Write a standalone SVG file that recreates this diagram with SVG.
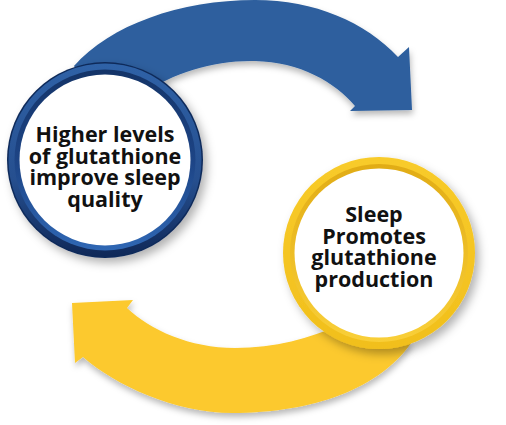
<svg xmlns="http://www.w3.org/2000/svg" width="506" height="425" viewBox="0 0 506 425">
  <defs>
    <filter id="arrowShadow" x="-10%" y="-10%" width="120%" height="130%">
      <feDropShadow dx="1" dy="4" stdDeviation="3" flood-color="#000" flood-opacity="0.28"/>
    </filter>
    <filter id="circleShadow" x="-15%" y="-15%" width="135%" height="135%">
      <feDropShadow dx="4" dy="5" stdDeviation="5" flood-color="#000" flood-opacity="0.3"/>
    </filter>
    <linearGradient id="blueOuter" x1="0" y1="0" x2="0" y2="1">
      <stop offset="0" stop-color="#2f62a7"/>
      <stop offset="0.6" stop-color="#264f8f"/>
      <stop offset="1" stop-color="#0f2858"/>
    </linearGradient>
    <linearGradient id="blueInner" x1="0" y1="0" x2="0" y2="1">
      <stop offset="0" stop-color="#143468"/>
      <stop offset="0.5" stop-color="#1d4485"/>
      <stop offset="1" stop-color="#2f67b4"/>
    </linearGradient>
    <linearGradient id="yellowOuter" x1="0" y1="0" x2="0" y2="1">
      <stop offset="0" stop-color="#f8cb2a"/>
      <stop offset="1" stop-color="#f1bf1c"/>
    </linearGradient>
    <linearGradient id="yellowInner" x1="0" y1="0" x2="0" y2="1">
      <stop offset="0" stop-color="#e1ac15"/>
      <stop offset="1" stop-color="#f9cf38"/>
    </linearGradient>
    <style>
      .label { font-family: "Open Sans", "Liberation Sans", sans-serif; font-weight: 700; font-size: 21.5px; fill: #111111; text-anchor: middle; }
      .white { fill: #ffffff; }
    </style>
  </defs>

  <g id="connectors">
    <path id="arrow-blue" filter="url(#arrowShadow)" fill="#2d5f9e"
      d="M 100,110 L 74,66 C 110,25 180,0 255,0 C 315,0 365,22 398,57 L 409,47 L 412,110 L 350,111 L 355,106 C 335,82 300,62 255,61 C 215,60 175,72 140,95 Z"/>
    <path id="arrow-yellow" filter="url(#arrowShadow)" fill="#fcc92d"
      d="M 345,330 L 412,342 C 375,395 300,413 233,413 C 175,413 115,385 83,357 L 75,363 L 72,303 L 133,300 L 127,308 C 150,330 190,348 235,348 C 275,348 310,338 340,325 Z"/>
  </g>

  <g id="node-glutathione">
    <g filter="url(#circleShadow)">
      <circle cx="105" cy="160" r="98" fill="#102a5a"/>
    </g>
    <circle cx="105" cy="160" r="96.5" fill="url(#blueOuter)"/>
    <circle cx="105" cy="160" r="90.5" fill="url(#blueInner)"/>
    <circle cx="105" cy="160" r="85.5" class="white"/>
    <text class="label" x="105" y="142">Higher levels</text>
    <text class="label" x="105" y="163.5">of glutathione</text>
    <text class="label" x="105" y="185">improve sleep</text>
    <text class="label" x="105" y="206.5">quality</text>
  </g>

  <g id="node-sleep">
    <g filter="url(#circleShadow)">
      <circle cx="379" cy="253" r="96" fill="url(#yellowOuter)"/>
    </g>
    <circle cx="379" cy="253" r="89" fill="url(#yellowInner)"/>
    <circle cx="379" cy="253" r="84.5" class="white"/>
    <text class="label" x="374" y="222">Sleep</text>
    <text class="label" x="374" y="243.5">Promotes</text>
    <text class="label" x="374" y="265">glutathione</text>
    <text class="label" x="374" y="286.5">production</text>
  </g>
</svg>
